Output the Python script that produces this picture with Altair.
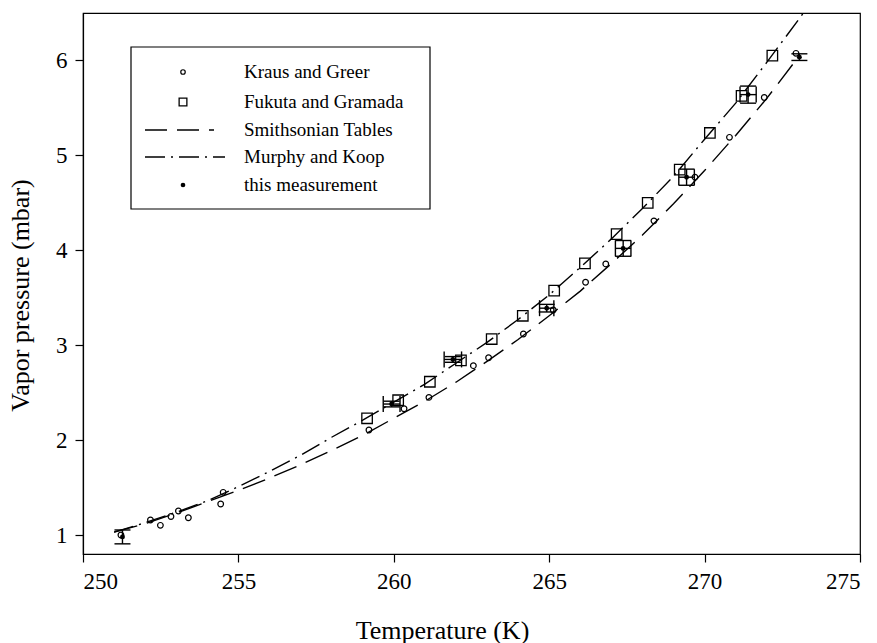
import altair as alt
import pandas as pd

# ---------------- data ----------------
smith_T = [251, 252, 253, 254, 255, 256, 257, 258, 259, 260, 261, 262, 263, 264,
           265, 266, 267, 268, 269, 270, 271, 272, 273]
smith_p = [1.03, 1.12, 1.23, 1.35, 1.47, 1.60, 1.74, 1.89, 2.05, 2.23, 2.41, 2.61,
           2.83, 3.06, 3.31, 3.57, 3.86, 4.16, 4.49, 4.84, 5.21, 5.60, 6.03]

murphy_T = [251, 252, 253, 254, 255, 256, 257, 258, 259, 260, 261, 262, 263, 264,
            265, 266, 267, 268, 269, 270, 271, 272, 273, 273.2]
murphy_p = [1.03, 1.13, 1.24, 1.36, 1.51, 1.67, 1.84, 2.03, 2.21, 2.40, 2.59, 2.81,
            3.03, 3.27, 3.53, 3.82, 4.12, 4.44, 4.78, 5.17, 5.55, 5.98, 6.42, 6.51]

kraus_T = [251.22, 252.17, 252.49, 252.83, 253.07, 253.39, 254.43, 254.51, 259.2,
           260.33, 261.13, 262.56, 263.05, 264.17, 265.13, 266.17, 266.82, 268.37,
           269.69, 270.8, 271.92, 272.94]
kraus_p = [1.0, 1.158, 1.102, 1.195, 1.253, 1.182, 1.327, 1.45, 2.106, 2.33, 2.45,
           2.784, 2.868, 3.118, 3.371, 3.663, 3.856, 4.31, 4.77, 5.19, 5.61, 6.075]

fukuta_T = [259.14, 260.14, 261.16, 262.16, 263.15, 264.15, 265.16, 266.15, 267.17,
            268.17, 269.2, 270.17, 271.19, 272.18]
fukuta_p = [2.23, 2.42, 2.615, 2.84, 3.065, 3.31, 3.574, 3.863, 4.17, 4.50, 4.85,
            5.236, 5.626, 6.05]

meas_T = [251.27, 259.93, 261.9, 264.92, 267.38, 269.42, 271.4, 273.05]
meas_p = [0.98, 2.38, 2.85, 3.39, 4.02, 4.77, 5.64, 6.035]
meas_dT = [0.0, 0.27, 0.28, 0.23, 0.25, 0.25, 0.26, 0.0]
meas_dp = [0.073, 0.03, 0.03, 0.04, 0.083, 0.085, 0.09, 0.035]

x_ticks = [250, 255, 260, 265, 270, 275]
y_ticks = [1, 2, 3, 4, 5, 6]

legend_labels = ["Kraus and Greer", "Fukuta and Gramada", "Smithsonian Tables",
                 "Murphy and Koop", "this measurement"]

# ---------------- frames ----------------
smith = pd.DataFrame({"T": smith_T, "p": smith_p})
murphy = pd.DataFrame({"T": murphy_T, "p": murphy_p})
kraus = pd.DataFrame({"T": kraus_T, "p": kraus_p})
fukuta = pd.DataFrame({"T": fukuta_T, "p": fukuta_p})
meas = pd.DataFrame({"T": meas_T, "p": meas_p, "dT": meas_dT, "dp": meas_dp})
meas["Tlo"] = meas["T"] - meas["dT"]
meas["Thi"] = meas["T"] + meas["dT"]
meas["plo"] = meas["p"] - meas["dp"]
meas["phi"] = meas["p"] + meas["dp"]
mx = meas[meas["dT"] > 0]
xcaps = pd.concat([pd.DataFrame({"T": mx["Tlo"], "p": mx["p"]}),
                   pd.DataFrame({"T": mx["Thi"], "p": mx["p"]})])
ycaps = pd.concat([pd.DataFrame({"T": meas["T"], "p": meas["plo"]}),
                   pd.DataFrame({"T": meas["T"], "p": meas["phi"]})])

FONT = "Liberation Serif"
W, H = 777, 541
LW = 1.4

xs = alt.Scale(domain=[250, 275], nice=False, zero=False)
ys = alt.Scale(domain=[0.8, 6.5], nice=False, zero=False)

X = alt.X("T:Q", scale=xs, axis=alt.Axis(
    values=x_ticks, format="d", title="Temperature (K)",
    titleX=359, titleY=76, titleBaseline="middle", titleAlign="center"))
Y = alt.Y("p:Q", scale=ys, axis=alt.Axis(
    values=y_ticks, format="d", title="Vapor pressure (mbar)",
    titleX=-63, titleY=282, titleAngle=-90, titleBaseline="middle",
    titleAlign="center"))

base_x = alt.X("T:Q", scale=xs)
base_y = alt.Y("p:Q", scale=ys)

smith_line = alt.Chart(smith).mark_line(
    color="black", strokeWidth=LW, strokeDash=[24, 10], clip=True
).encode(x=X, y=Y)

murphy_line = alt.Chart(murphy).mark_line(
    color="black", strokeWidth=LW, strokeDash=[20, 6, 2, 6], clip=True
).encode(x=base_x, y=base_y)

kraus_pts = alt.Chart(kraus).mark_point(
    shape="circle", filled=False, size=32, color="black", strokeWidth=1.2, opacity=1
).encode(x=base_x, y=base_y)

fukuta_pts = alt.Chart(fukuta).mark_point(
    shape="square", filled=False, size=110, color="black", strokeWidth=1.3, opacity=1
).encode(x=base_x, y=base_y)

xerr = alt.Chart(mx).mark_rule(color="black", strokeWidth=LW).encode(
    x=alt.X("Tlo:Q", scale=xs), x2="Thi:Q", y=alt.Y("p:Q", scale=ys))
yerr = alt.Chart(meas).mark_rule(color="black", strokeWidth=LW).encode(
    x=alt.X("T:Q", scale=xs), y=alt.Y("plo:Q", scale=ys), y2="phi:Q")
xcap = alt.Chart(xcaps).mark_tick(
    orient="vertical", size=16, thickness=LW, color="black", opacity=1
).encode(x=base_x, y=base_y)
ycap = alt.Chart(ycaps).mark_tick(
    orient="horizontal", size=16, thickness=LW, color="black", opacity=1
).encode(x=base_x, y=base_y)
meas_pts = alt.Chart(meas).mark_point(
    shape="circle", filled=True, size=24, color="black", opacity=1
).encode(x=base_x, y=base_y)

# ---------------- legend (drawn inside the plot) ----------------
one = pd.DataFrame({"a": [0]})
lx0, ly0, lx1, ly1 = 48, 34, 347, 196
sym_x, txt_x = 100, 161
row_y = [59, 89, 117, 144, 172]

leg_box = alt.Chart(one).mark_rect(
    fill="white", stroke="black", strokeWidth=1.2
).encode(x=alt.value(lx0), x2=alt.value(lx1), y=alt.value(ly0), y2=alt.value(ly1))

leg_layers = [leg_box]
leg_layers.append(alt.Chart(one).mark_point(
    shape="circle", filled=False, size=20, color="black", strokeWidth=1.2, opacity=1
).encode(x=alt.value(sym_x), y=alt.value(row_y[0])))
leg_layers.append(alt.Chart(one).mark_point(
    shape="square", filled=False, size=60, color="black", strokeWidth=1.3, opacity=1
).encode(x=alt.value(sym_x), y=alt.value(row_y[1])))
leg_layers.append(alt.Chart(one).mark_rule(
    color="black", strokeWidth=LW, strokeDash=[22, 10]
).encode(x=alt.value(62), x2=alt.value(131), y=alt.value(row_y[2])))
leg_layers.append(alt.Chart(one).mark_rule(
    color="black", strokeWidth=LW, strokeDash=[20, 6, 2, 6]
).encode(x=alt.value(62), x2=alt.value(142), y=alt.value(row_y[3])))
leg_layers.append(alt.Chart(one).mark_point(
    shape="circle", filled=True, size=22, color="black", opacity=1
).encode(x=alt.value(sym_x), y=alt.value(row_y[4])))
for lab, yy in zip(legend_labels, row_y):
    leg_layers.append(alt.Chart(one).mark_text(
        align="left", baseline="middle", font=FONT, fontSize=19, color="black"
    ).encode(x=alt.value(txt_x), y=alt.value(yy), text=alt.value(lab)))

chart = alt.layer(
    smith_line, murphy_line, kraus_pts, fukuta_pts, xerr, yerr, xcap, ycap, meas_pts,
    *leg_layers
).properties(
    width=W, height=H,
    autosize=alt.AutoSizeParams(type="none"),
    padding={"left": 83, "top": 13, "right": 17, "bottom": 89},
    background="white",
).configure_view(
    stroke="black", strokeWidth=1.2
).configure_axis(
    grid=False, domainColor="black", domainWidth=1.2, tickColor="black",
    tickWidth=1.2, tickSize=8, labelFont=FONT, labelFontSize=23,
    labelColor="black", titleFont=FONT, titleFontSize=26,
    titleFontWeight="normal", titleColor="black", labelPadding=8
)

chart.save("out.html", embed_options={"renderer": "svg", "actions": False})
